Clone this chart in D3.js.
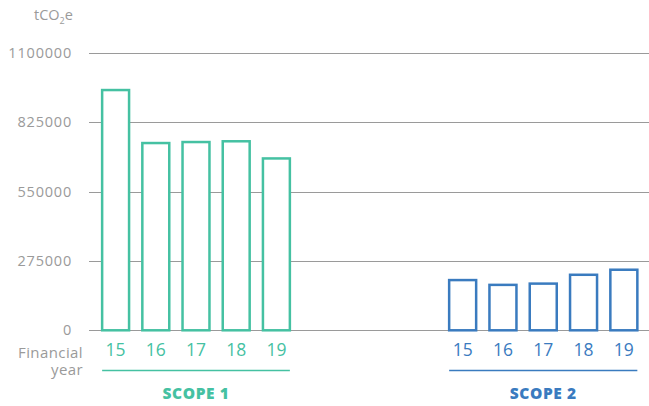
<!DOCTYPE html>
<html>
<head>
<meta charset="utf-8">
<script src="https://cdn.jsdelivr.net/npm/d3@7/dist/d3.min.js"></script>
<style>
  html, body { margin: 0; padding: 0; background: #fff; }
  svg { display: block; font-family: "Open Sans", Lato, sans-serif; }
</style>
</head>
<body>
<svg id="chart" width="649" height="406"></svg>
<script>
// Emissions by financial year, tonnes CO2-equivalent
const years = ["15", "16", "17", "18", "19"];
const scope1 = [952000, 742000, 746000, 749000, 681000];
const scope2 = [199000, 180000, 185000, 220000, 240000];
const yTicks = [0, 275000, 550000, 825000, 1100000];
const groups = ["SCOPE 1", "SCOPE 2"];

const teal = "#45c1a2";
const blue = "#3a7bbf";
const grey = "#9a9a9a";

const svg = d3.select("#chart");

const y = d3.scaleLinear().domain([0, 1100000]).range([330.3, 52.7]);

// Gridlines and value labels
svg.append("g").selectAll("line")
  .data(yTicks).join("line")
  .attr("x1", 89).attr("x2", 649)
  .attr("y1", d => Math.round(y(d)) + 0.5).attr("y2", d => Math.round(y(d)) + 0.5)
  .attr("stroke", grey).attr("stroke-width", 1);

svg.append("g").selectAll("text")
  .data(yTicks).join("text")
  .attr("x", 72).attr("y", d => y(d) + 5)
  .attr("text-anchor", "end")
  .attr("font-size", 14.5).attr("letter-spacing", 0.8)
  .attr("fill", grey)
  .text(d => d);

// Unit label
const unit = svg.append("text").attr("x", 34).attr("y", 20)
  .attr("font-size", 14.5).attr("fill", grey);
unit.append("tspan").text("tCO");
unit.append("tspan").attr("font-size", 9).attr("dy", 4).text("2");
unit.append("tspan").attr("dy", -4).text("e");

// Axis caption
svg.append("text").attr("x", 83).attr("y", 357.5).attr("text-anchor", "end")
  .attr("font-size", 15).attr("letter-spacing", 0.4).attr("fill", grey).text("Financial");
svg.append("text").attr("x", 83).attr("y", 374.5).attr("text-anchor", "end")
  .attr("font-size", 15).attr("letter-spacing", 0.4).attr("fill", grey).text("year");

function drawGroup(values, color, range, name) {
  const x = d3.scaleBand().domain(years).range(range).paddingInner(0.33).paddingOuter(0.165);
  const g = svg.append("g");
  g.selectAll("rect").data(values).join("rect")
    .attr("x", (d, i) => x(years[i]))
    .attr("y", d => y(d))
    .attr("width", x.bandwidth())
    .attr("height", d => y(0) - y(d))
    .attr("fill", "#fff")
    .attr("stroke", color).attr("stroke-width", 2.5);
  g.selectAll("text.yr").data(years).join("text")
    .attr("class", "yr")
    .attr("x", d => x(d) + x.bandwidth() / 2)
    .attr("y", 356)
    .attr("text-anchor", "middle")
    .attr("font-size", 17.5).attr("fill", color)
    .text(d => d);
  const x0 = x(years[0]), x1 = x(years[years.length - 1]) + x.bandwidth();
  g.append("line").attr("x1", x0).attr("x2", x1).attr("y1", 370.5).attr("y2", 370.5)
    .attr("stroke", color).attr("stroke-width", 1.5);
  g.append("text").attr("x", (x0 + x1) / 2).attr("y", 398.5)
    .attr("text-anchor", "middle")
    .attr("font-size", 15.5).attr("font-weight", 800).attr("letter-spacing", 0.6)
    .attr("fill", color)
    .text(name);
}

drawGroup(scope1, teal, [95.5, 296.5], groups[0]);
drawGroup(scope2, blue, [442.5, 644], groups[1]);
</script>
</body>
</html>
